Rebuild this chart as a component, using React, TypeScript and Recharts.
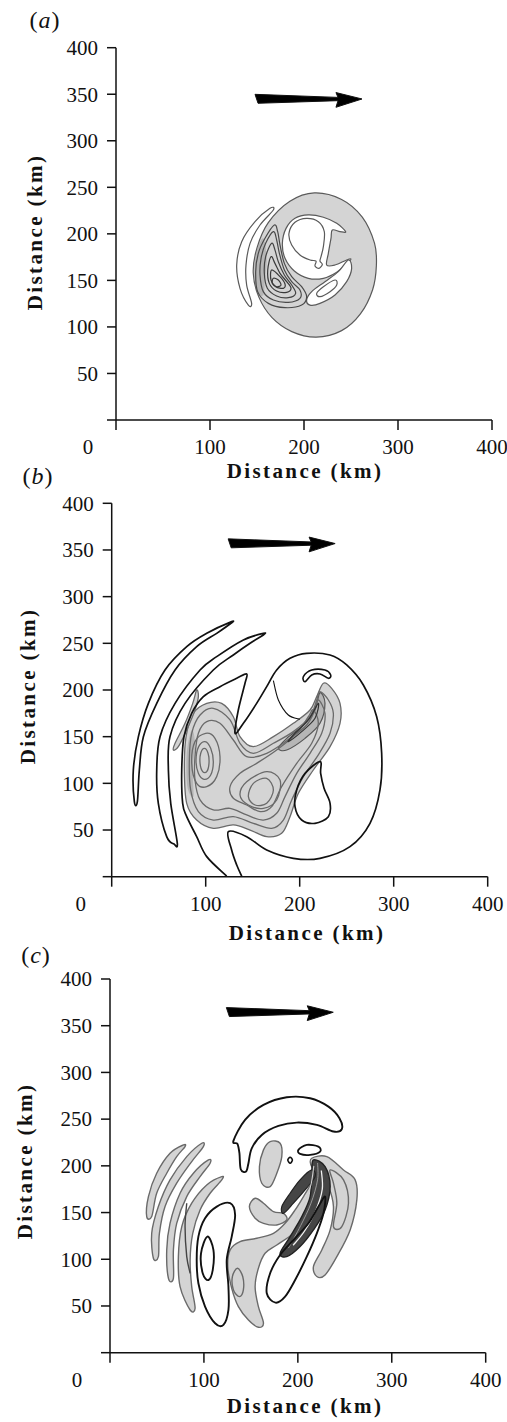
import React from "react";
import { ComposedChart, Line, XAxis, YAxis } from "recharts";

type Pt = [number, number];

// ---------- panel (a): contour lines, km ----------
const aDisk: Pt[] = [[211, 244], [240, 237], [262, 218], [275, 190], [277, 166], [273, 140], [260, 114], [240, 96], [213, 89], [187, 95], [166, 110], [152, 132], [146, 158], [150, 185], [162, 212], [185, 235]];
const aCrescent: Pt[] = [[163.8, 227.4], [147.9, 213.1], [133.7, 191.6], [128.4, 166.5], [131.9, 141.5], [140.8, 123.5], [144.3, 125.3], [139, 145], [138.3, 166.5], [142.6, 189.8], [153.2, 209.5], [167.4, 225.6]];
const aHook: Pt[] = [[244.3, 202.4], [234.8, 211.3], [220.6, 217.8], [204.6, 220.3], [190.4, 216.7], [180.9, 205.9], [177, 189.8], [179.8, 173.7], [189.7, 160.1], [204.6, 152.2], [220.6, 152.2], [234.8, 158.7], [247.2, 169.4], [250, 173], [245.4, 171.9], [233, 166.5], [224.1, 166.5], [225.9, 179.1], [228.7, 195.2], [230.1, 204.1], [238.3, 202.4]];
const aCore: Pt[] = [[202.8, 216.7], [215.3, 213.1], [221.6, 202.4], [220.6, 186.2], [218.1, 175.5], [217, 170.8], [219.5, 167.2], [216, 162.9], [211.7, 165.5], [212.8, 170.8], [206.4, 171.9], [195.7, 177.3], [186.9, 188], [184, 200.6], [190.4, 212.4]];
const aLobe: Pt[] = [[247.2, 171.9], [250.7, 162.9], [245.4, 148.6], [233, 134.3], [217, 125.3], [206.4, 123.5], [202.8, 128.9], [208.2, 137.9], [222.3, 148.6], [236.5, 159.4]];
const aLobeCore: Pt[] = [[233, 150.4], [234.8, 145], [227.7, 137.9], [217, 132.5], [213.5, 136.1], [220.6, 143.2]];
const aShadow: Pt[] = [[156.7, 195.2], [149.6, 180.9], [147.2, 159.4], [149.6, 137.9], [156.7, 134.3], [158.5, 152.2], [160.3, 173.7]];
const aRing7: Pt[] = [[168.4, 209.5], [158.5, 195.2], [151.4, 179.1], [148.6, 159.4], [150.7, 137.9], [162.1, 125.3], [179.8, 120.7], [197.5, 123.5], [202.8, 132.5], [197.5, 143.2], [186.9, 154], [179.1, 168.3], [174.5, 188], [172, 202.4]];
const aRing6: Pt[] = [[167.4, 202.4], [159.2, 189.8], [154.3, 173.7], [153.2, 155.8], [156.7, 137.9], [167.4, 128.9], [183.3, 126.4], [195.7, 130.7], [195.7, 139.7], [186.9, 148.6], [179.1, 161.2], [173.8, 179.1], [170.9, 193.4]];
const aRing5: Pt[] = [[165.6, 189.8], [159.2, 175.5], [157.8, 157.6], [161, 141.5], [170.9, 133.2], [183.3, 131.4], [191.1, 136.1], [186.9, 145], [179.1, 155.8], [172.7, 170.1], [169.1, 182.7]];
const aRing4: Pt[] = [[164.9, 175.5], [161.4, 161.2], [163.1, 146.8], [170.9, 138.6], [181.6, 137.2], [186.2, 141.5], [181.6, 148.6], [174.5, 157.6], [169.1, 168.3]];
const aRing3: Pt[] = [[165.6, 161.2], [164.9, 150.4], [169.9, 143.2], [178, 141.5], [179.8, 146.1], [174.5, 154]];
const aRing2: Pt[] = [[167.4, 152.2], [166.3, 146.8], [170.9, 143.2], [175.5, 145], [172.7, 150.4]];
const aArrow: Pt[] = [[147.9, 349.9], [236.2, 346.6], [234, 351.8], [261.7, 344.9], [234, 336], [236.2, 343.1], [151.1, 340.3]];

// ---------- panel (b) ----------
const bShade: Pt[] = [[225.2, 207.2], [234, 201.8], [242.9, 185.7], [242.9, 164.3], [232.3, 139.3], [214.5, 114.3], [198.6, 89.3], [189.7, 64.3], [180.8, 46.5], [164.9, 42.9], [147.2, 50], [129.4, 55.4], [108.1, 51.8], [90.4, 60.7], [79.8, 78.6], [77.3, 114.3], [79.1, 150], [86.9, 175], [101.1, 185.7], [117, 185.7], [129.4, 171.4], [136.5, 150], [150.7, 139.3], [172, 150], [193.2, 164.3], [211, 178.6], [218.1, 192.9]];
const bEdge: Pt[] = [[85.1, 157.2], [79.8, 132.2], [80.5, 96.5], [86.9, 85.8], [86.2, 114.3], [88.6, 142.9]];
const bSliver: Pt[] = [[90.4, 200], [86.2, 185.7], [78, 164.3], [67.4, 142.9], [65.6, 135.7], [70.9, 139.3], [79.8, 157.2], [88.6, 178.6], [92.2, 192.9]];
const bEye1: Pt[] = [[98.6, 137.5], [102.5, 132.2], [103.5, 121.4], [101.1, 112.5], [96.8, 112.5], [94, 121.4], [94.7, 132.2]];
const bEye2: Pt[] = [[99.3, 144.7], [105.3, 137.5], [108.1, 123.2], [105.3, 108.9], [98.2, 104.3], [92.2, 110.7], [89.7, 125], [92.5, 139.3]];
const bEye3: Pt[] = [[100, 153.6], [109.9, 148.2], [115.2, 128.6], [111.7, 107.2], [101.1, 96.5], [90.4, 100], [85.1, 121.4], [88.6, 144.7]];
const bBand4: Pt[] = [[221.6, 198.2], [230.5, 189.3], [235.8, 175], [232.3, 153.6], [219.8, 130.4], [203.9, 107.2], [191.5, 82.2], [182.6, 60.7], [170.2, 51.8], [150.7, 57.2], [129.4, 64.3], [108.1, 60.7], [92.2, 69.7], [84, 92.9], [82.6, 125], [85.1, 153.6], [94, 173.2], [108.1, 180.4], [125.9, 167.9], [136.5, 142.9], [150.7, 132.2], [172, 142.9], [193.2, 155.4], [211, 171.4], [218.1, 189.3]];
const bBand5: Pt[] = [[219.8, 189.3], [226.9, 175], [223.4, 153.6], [211, 132.2], [196.8, 110.7], [184.4, 85.8], [175.5, 67.9], [161.3, 60.7], [143.6, 66.1], [125.9, 73.2], [108.1, 71.5], [94, 82.2], [88.6, 103.6], [88.6, 128.6], [92.2, 153.6], [101.1, 166.1], [115.2, 164.3], [129.4, 146.4], [143.6, 128.6], [164.9, 132.2], [189.7, 148.2], [207.4, 162.5], [216.3, 178.6]];
const bBand6: Pt[] = [[214.5, 178.6], [219.8, 164.3], [212.8, 142.9], [196.8, 121.4], [180.8, 96.5], [170.2, 75], [157.8, 69.7], [143.6, 76.8], [129.4, 84], [125.9, 96.5], [136.5, 110.7], [154.2, 121.4], [175.5, 135.7], [196.8, 153.6], [209.2, 171.4]];
const bPool1: Pt[] = [[143.6, 101.8], [164.9, 112.5], [179.1, 103.6], [175.5, 82.2], [161.3, 73.2], [145.4, 76.8], [136.5, 87.5]];
const bPool2: Pt[] = [[150.7, 100], [164.9, 105.4], [172, 92.9], [164.9, 78.6], [152.5, 76.8], [145.4, 85.8]];
const bJet: Pt[] = [[221.6, 197.1], [226.9, 185.7], [221.6, 164.3], [205.7, 148.2], [186.2, 135.7], [177.3, 137.5], [186.2, 148.2], [203.9, 162.5], [216.3, 180.4]];
const bJetCore: Pt[] = [[219.8, 185.7], [216.3, 169.7], [202.1, 155.4], [187.9, 144.7], [193.2, 151.8], [209.2, 167.9]];
const bArc1: Pt[] = [[127.6, 273.2], [101.1, 260.7], [79.8, 246.4], [56.7, 221.4], [39, 185.7], [28.4, 150], [23, 114.3], [24.1, 80.4], [27.3, 80.4], [29.4, 114.3], [33.7, 150], [47.9, 185.7], [67.4, 221.4], [90.4, 246.4], [111.7, 260.7], [125.9, 270.7]];
const bArc2: Pt[] = [[161.3, 260.7], [140.1, 253.6], [111.7, 235.7], [94, 221.4], [67.4, 185.7], [51.4, 150], [47.9, 114.3], [49.6, 78.6], [58.5, 42.9], [66.3, 35], [69.8, 35.7], [62.8, 78.6], [60.3, 114.3], [62, 150], [78, 185.7], [108.1, 221.4], [129.4, 237.5], [147.2, 250], [161.3, 258.9]];
const bOuter: Pt[] = [[122.3, 0.7], [101.1, 21.5], [90.4, 42.9], [79.8, 64.3], [75.5, 78.6], [74.5, 114.3], [76.9, 150], [85.1, 175], [97.5, 192.9], [115.2, 203.6], [133, 212.5], [143.6, 217.2], [141.8, 207.2], [134.7, 178.6], [131.2, 153.6], [140.1, 164.3], [154.2, 185.7], [164.9, 203.6], [175.5, 221.4], [189.7, 233.9], [207.4, 239.3], [232.3, 237.5], [250, 226.8], [267.7, 205.4], [281.9, 171.4], [287.2, 132.2], [285.4, 92.9], [274.8, 57.2], [253.5, 32.2], [221.6, 19.7], [193.2, 19.7], [164.9, 28.6], [143.6, 42.9], [124.1, 48.2], [127.6, 28.6], [133, 12.5], [138.3, 0.7]];
const bThread: Pt[] = [[172, 210], [177.3, 189.3], [187.9, 173.2], [200.3, 168.6]];
const bTongue: Pt[] = [[203.9, 214.3], [212.8, 221.4], [226.9, 221.4], [233, 216.1], [230.5, 212.5], [221.6, 217.2], [212.8, 216.1], [205.7, 208.9]];
const bDrop: Pt[] = [[221.6, 123.2], [205.7, 110.7], [196.8, 92.9], [195, 75], [202.1, 60.7], [216.3, 57.2], [230.5, 64.3], [232.3, 78.6], [225.9, 94.7], [222.3, 110.7]];
const bArrow: Pt[] = [[123.9, 361.9], [212.2, 358.6], [210, 363.8], [237.7, 356.9], [210, 348], [212.2, 355.1], [127.1, 352.3]];

// ---------- panel (c) ----------
const cArc1: Pt[] = [[78.2, 222.4], [63.9, 213.5], [49.7, 192.1], [40.9, 167.1], [39.1, 145.7], [44.4, 145.7], [49.7, 170.7], [60.4, 192.1], [71, 209.9], [79.9, 220.6]];
const cArc2: Pt[] = [[97.7, 224.2], [81.7, 209.9], [63.9, 184.9], [51.5, 156.4], [44.4, 127.8], [46.2, 101.1], [51.5, 102.8], [52.6, 127.8], [58.6, 156.4], [71, 181.4], [87, 204.6], [99.4, 220.6]];
const cArc3: Pt[] = [[104.8, 206.3], [88.8, 192.1], [74.6, 170.7], [63.9, 138.5], [60.4, 110], [62.2, 79.6], [67.5, 79.6], [67.5, 110], [71, 138.5], [81.7, 167.1], [95.9, 188.5], [106.6, 202.8]];
const cArc4: Pt[] = [[119, 188.5], [103, 179.6], [87, 160], [76.4, 135], [72.8, 102.8], [74.6, 70.7], [85.3, 45.7], [90.6, 47.5], [87, 70.7], [85.3, 99.3], [88.1, 127.8], [95.9, 152.8], [106.6, 170.7], [119, 184.9]];
const cArc4Core: Pt[] = [[81.7, 160], [79.9, 135], [81.7, 102.8], [85.3, 85]];
const cTail: Pt[] = [[158, 27.2], [147.4, 35], [136.7, 49.3], [129.6, 68.9], [125.4, 92.2], [127.9, 110], [138.5, 118.9], [156.3, 122.5], [174, 127.8], [186.4, 138.5], [197.1, 152.8], [206, 167.1], [214.8, 181.4], [221.9, 192.1], [225.5, 186.7], [220.2, 167.1], [209.5, 145.7], [195.3, 127.8], [177.6, 115.3], [165.1, 106.4], [158, 90.4], [154.5, 70.7], [158, 49.3], [163.4, 31.5]];
const cTailCore: Pt[] = [[135.7, 90.4], [141.3, 81.5], [142, 67.2], [137.8, 60], [131.4, 67.2], [130.3, 81.5]];
const cFin: Pt[] = [[148.4, 156.4], [154.5, 165.3], [163.4, 160], [174, 151], [184.7, 149.2], [188.2, 142.1], [177.6, 136.7], [163.4, 138.5], [154.5, 143.9]];
const cPatch: Pt[] = [[170.5, 226], [181.1, 224.2], [182.9, 209.9], [177.6, 192.1], [170.5, 177.8], [161.6, 181.4], [159.1, 199.2], [163.4, 217.1]];
const cPlume: Pt[] = [[214.8, 208.1], [230.8, 209.9], [248.6, 195.6], [261, 185], [262.8, 163.5], [255.7, 131.4], [241.5, 102.8], [229, 83.2], [220.2, 81.5], [216.6, 92.2], [225.5, 110], [234.4, 131.4], [237.9, 156.4], [232.6, 177.8], [223.7, 192.1], [214.8, 199.2]];
const cPlumeCore: Pt[] = [[234.4, 195.6], [248.6, 185], [253.9, 160], [246.8, 135], [237.9, 135], [241.5, 160], [237.9, 181.4]];
const cDense: Pt[] = [[216.6, 206.3], [229, 199.2], [234.4, 177.8], [229, 152.8], [216.6, 131.4], [202.4, 113.6], [188.2, 102.8], [181.1, 106.4], [191.8, 124.3], [204.2, 145.7], [213.1, 167.1], [214.8, 192.1]];
const cWisp: Pt[] = [[214.8, 195.6], [202.4, 185], [191.8, 170.7], [182.9, 156.4], [184.7, 149.2], [195.3, 160], [207.7, 174.2], [218.4, 188.5]];
const cStreak1: Pt[] = [[225, 195], [226, 175], [219, 152], [207, 130], [195, 115]];
const cStreak2: Pt[] = [[217, 200], [214, 180], [207, 160], [196, 140]];
const cStreak3: Pt[] = [[221, 203], [221, 185], [214, 160], [203, 136], [190, 112]];
const cBanana: Pt[] = [[131.4, 226.7], [143.8, 249.2], [163.4, 265.2], [188.2, 273.4], [213.1, 272.4], [232.6, 263.4], [244.3, 251], [246.8, 239.2], [237.9, 236.7], [220.2, 243.8], [198.9, 246.3], [179.3, 242.7], [161.6, 233.1], [150.9, 218.8], [147.4, 202.8], [144.9, 193.9], [139.2, 196.4], [137.8, 213.5], [135.7, 223.5]];
const cSeed: Pt[] = [[200.6, 217.1], [209.5, 222.4], [221.9, 220.6], [223.7, 215.3], [213.1, 211.7], [202.4, 212.8]];
const cDot: Pt[] = [[191.8, 209.2], [194.2, 206.3], [191.8, 202.8], [189.3, 206.3]];
const cLoop: Pt[] = [[101.2, 143.9], [113.7, 156.4], [127.9, 160], [133.2, 147.5], [129.6, 124.3], [124.3, 99.3], [126.1, 70.7], [126.1, 45.7], [120.8, 29.7], [111.9, 31.5], [101.2, 49.3], [94.1, 74.3], [92.3, 99.3], [94.1, 124.3]];
const cLoopCore: Pt[] = [[103.7, 124.3], [110.1, 110], [109.4, 88.6], [104.8, 77.8], [98.7, 85], [96.9, 106.4]];
const cLeaf: Pt[] = [[176.2, 53.6], [166.9, 63.6], [170.5, 85], [181.1, 104.6], [197.1, 122.5], [211.3, 138.5], [221.9, 156.4], [229, 167.1], [227.3, 149.2], [220.2, 127.8], [209.5, 102.8], [197.1, 77.8], [186.4, 60]];
const cArrow: Pt[] = [[123.9, 369.4], [212.2, 366.1], [210, 371.3], [237.7, 364.4], [210, 355.5], [212.2, 362.6], [127.1, 359.8]];

const xTicks = [0, 100, 200, 300, 400];
const yTicks = [0, 50, 100, 150, 200, 250, 300, 350, 400];

// closed / open Catmull-Rom through the traced points
function smooth(closed: boolean) {
  return (ctx: any) => {
    let pts: number[][] = [];
    return {
      areaStart() {},
      areaEnd() {},
      lineStart() {
        pts = [];
      },
      point(x: number, y: number) {
        pts.push([+x, +y]);
      },
      lineEnd() {
        const n = pts.length;
        if (n < 2) return;
        const at = (i: number) => (closed ? pts[(i + n) % n] : pts[Math.max(0, Math.min(n - 1, i))]);
        ctx.moveTo(pts[0][0], pts[0][1]);
        const segs = closed ? n : n - 1;
        for (let i = 0; i < segs; i++) {
          const p0 = at(i - 1), p1 = at(i), p2 = at(i + 1), p3 = at(i + 2);
          ctx.bezierCurveTo(
            p1[0] + (p2[0] - p0[0]) / 6, p1[1] + (p2[1] - p0[1]) / 6,
            p2[0] - (p3[0] - p1[0]) / 6, p2[1] - (p3[1] - p1[1]) / 6,
            p2[0], p2[1]
          );
        }
        if (closed) ctx.closePath();
      },
    };
  };
}
const closedCurve = smooth(true);
const openCurve = smooth(false);

type Layer = { pts: Pt[]; fill?: string; stroke: string; width: number; open?: boolean; poly?: boolean };

const GRAY = "#6a6a6a";
const INK = "#111";

const aLayers: Layer[] = [
  { pts: aDisk, fill: "shade", stroke: "#5a5a5a", width: 1.2 },
  { pts: aShadow, fill: "dark", stroke: "none", width: 0 },
  { pts: aHook, fill: "white", stroke: "#5a5a5a", width: 1.2 },
  { pts: aLobe, fill: "white", stroke: "#5a5a5a", width: 1.2 },
  { pts: aLobeCore, stroke: "#5a5a5a", width: 1.2 },
  { pts: aCore, stroke: "#5a5a5a", width: 1.2 },
  { pts: aRing7, stroke: "#4a4a4a", width: 1.2 },
  { pts: aRing6, stroke: "#4a4a4a", width: 1.2 },
  { pts: aRing5, stroke: "#444", width: 1.2 },
  { pts: aRing4, stroke: "#3a3a3a", width: 1.2 },
  { pts: aRing3, stroke: "#3a3a3a", width: 1.2 },
  { pts: aRing2, stroke: "#3a3a3a", width: 1.2 },
  { pts: aCrescent, stroke: "#5a5a5a", width: 1.2 },
  { pts: aArrow, fill: "black", stroke: INK, width: 1, poly: true },
];

const bLayers: Layer[] = [
  { pts: bShade, fill: "shade", stroke: GRAY, width: 1.3 },
  { pts: bSliver, fill: "shade", stroke: GRAY, width: 1.3 },
  { pts: bEdge, fill: "dark", stroke: "none", width: 0 },
  { pts: bJet, fill: "dark", stroke: "#555", width: 1.2 },
  { pts: bBand4, stroke: GRAY, width: 1.3 },
  { pts: bBand5, stroke: GRAY, width: 1.3 },
  { pts: bBand6, stroke: GRAY, width: 1.3 },
  { pts: bPool1, stroke: GRAY, width: 1.3 },
  { pts: bPool2, stroke: GRAY, width: 1.3 },
  { pts: bEye3, stroke: GRAY, width: 1.3 },
  { pts: bEye2, stroke: GRAY, width: 1.3 },
  { pts: bEye1, stroke: GRAY, width: 1.3 },
  { pts: bJetCore, stroke: "#333", width: 1.2 },
  { pts: bArc1, stroke: INK, width: 1.7 },
  { pts: bArc2, stroke: INK, width: 1.7 },
  { pts: bOuter, stroke: INK, width: 1.7, open: true },
  { pts: bThread, stroke: INK, width: 1.1, open: true },
  { pts: bTongue, stroke: INK, width: 1.6 },
  { pts: bDrop, stroke: INK, width: 1.7 },
  { pts: bArrow, fill: "black", stroke: INK, width: 1, poly: true },
];

const cLayers: Layer[] = [
  { pts: cArc1, fill: "shade", stroke: GRAY, width: 1.4 },
  { pts: cArc2, fill: "shade", stroke: GRAY, width: 1.4 },
  { pts: cArc3, fill: "shade", stroke: GRAY, width: 1.4 },
  { pts: cArc4, fill: "shade", stroke: GRAY, width: 1.4 },
  { pts: cTail, fill: "shade", stroke: GRAY, width: 1.4 },
  { pts: cFin, fill: "shade", stroke: GRAY, width: 1.4 },
  { pts: cPatch, fill: "shade", stroke: GRAY, width: 1.4 },
  { pts: cPlume, fill: "shade", stroke: GRAY, width: 1.4 },
  { pts: cDense, fill: "ink", stroke: "#222", width: 1.4 },
  { pts: cWisp, fill: "ink", stroke: "#222", width: 1.2 },
  { pts: cTailCore, stroke: GRAY, width: 1.4 },
  { pts: cPlumeCore, stroke: GRAY, width: 1.4 },
  { pts: cArc4Core, stroke: "#444", width: 1.4, open: true },
  { pts: cStreak1, stroke: "#f2f2f2", width: 1.3, open: true },
  { pts: cStreak2, stroke: "#cfcfcf", width: 1.1, open: true },
  { pts: cStreak3, stroke: "#9a9a9a", width: 1, open: true },
  { pts: cBanana, stroke: INK, width: 1.9 },
  { pts: cSeed, stroke: INK, width: 1.8 },
  { pts: cDot, stroke: INK, width: 1.6 },
  { pts: cLoop, stroke: INK, width: 1.9 },
  { pts: cLoopCore, stroke: INK, width: 1.9 },
  { pts: cLeaf, stroke: INK, width: 1.9 },
  { pts: cArrow, fill: "black", stroke: INK, width: 1, poly: true },
];

const serif = '"Liberation Serif", "Times New Roman", serif';

const css = `
.fill-shade path.recharts-line-curve { fill: #d4d4d4; }
.fill-white path.recharts-line-curve { fill: #ffffff; }
.fill-dark path.recharts-line-curve { fill: #8a8a8a; fill-opacity: 0.4; }
.fill-ink path.recharts-line-curve { fill: #454545; }
.fill-black path.recharts-line-curve { fill: #000000; }
`;

function renderLayer(l: Layer, i: number) {
  return (
    <Line
      key={i}
      data={l.pts.map(([x, y]) => ({ x, y }))}
      dataKey="y"
      type={(l.poly ? "linearClosed" : l.open ? openCurve : closedCurve) as any}
      stroke={l.stroke}
      strokeWidth={l.width}
      className={l.fill ? `fill-${l.fill}` : undefined}
      dot={false}
      activeDot={false}
      legendType="none"
      isAnimationActive={false}
    />
  );
}

type Geo = {
  top: number;
  mTop: number;
  plotH: number;
  left: number;
  right: number;
  zeroDx: number;
};

function Panel({ g, layers }: { g: Geo; layers: Layer[] }) {
  const xTick = (p: any) => {
    const v = p.payload.value;
    return (
      <text x={p.x + (v === 0 ? g.zeroDx : 0)} y={p.y + 17} dy="0.35em" textAnchor="middle" fontFamily={serif} fontSize={21} fill="#111">
        {v}
      </text>
    );
  };
  const yTick = (p: any) => {
    const v = p.payload.value;
    if (v === 0) return <g />;
    return (
      <text x={p.x} y={p.y} dy="0.35em" textAnchor="end" fontFamily={serif} fontSize={21} fill="#111">
        {v}
      </text>
    );
  };
  return (
    <div style={{ position: "absolute", left: 0, top: g.top }}>
      <ComposedChart width={507} height={g.mTop + g.plotH + 60} margin={{ top: g.mTop, right: g.right, bottom: 0, left: 0 }}>
        <XAxis
          type="number"
          dataKey="x"
          domain={[0, 400]}
          ticks={xTicks}
          allowDataOverflow
          height={60}
          tickSize={10}
          tickMargin={0}
          tick={xTick}
          axisLine={{ stroke: "#111", strokeWidth: 1.5 }}
          tickLine={{ stroke: "#111", strokeWidth: 1.5 }}
        />
        <YAxis
          type="number"
          domain={[0, 400]}
          ticks={yTicks}
          allowDataOverflow
          width={g.left}
          tickSize={9}
          tickMargin={9}
          tick={yTick}
          axisLine={{ stroke: "#111", strokeWidth: 1.5 }}
          tickLine={{ stroke: "#111", strokeWidth: 1.5 }}
        />
        {layers.map(renderLayer)}
      </ComposedChart>
    </div>
  );
}

const titleStyle: React.CSSProperties = {
  position: "absolute",
  fontFamily: serif,
  fontSize: 21,
  fontWeight: 700,
  letterSpacing: "2.4px",
  color: "#111",
  whiteSpace: "nowrap",
  lineHeight: 1,
};

function Titles({ x, y, yx, yy, lx, ly, letter }: { x: number; y: number; yx: number; yy: number; lx: number; ly: number; letter: string }) {
  return (
    <>
      <div style={{ ...titleStyle, left: x, top: y, transform: "translate(-50%, -50%)" }}>Distance (km)</div>
      <div style={{ ...titleStyle, left: yx, top: yy, transform: "translate(-50%, -50%) rotate(-90deg)" }}>Distance (km)</div>
      <div style={{ ...titleStyle, fontWeight: 400, fontSize: 24, letterSpacing: "1px", left: lx, top: ly, transform: "translate(-50%, -50%)" }}>
        (<i>{letter}</i>)
      </div>
    </>
  );
}

export default function App() {
  return (
    <div style={{ position: "absolute", left: 0, top: 0, width: 507, height: 1422, background: "#fff" }}>
      <style>{css}</style>
      <Panel g={{ top: 0, mTop: 47.7, plotH: 372.3, left: 116, right: 15, zeroDx: -28 }} layers={aLayers} />
      <Panel g={{ top: 455, mTop: 48.3, plotH: 373.4, left: 111.7, right: 19.3, zeroDx: -31 }} layers={bLayers} />
      <Panel g={{ top: 931, mTop: 48, plotH: 373.7, left: 110, right: 21.3, zeroDx: -33 }} layers={cLayers} />
      <Titles x={305} y={471} yx={35} yy={232} lx={45} ly={20} letter="a" />
      <Titles x={307} y={933} yx={28} yy={686} lx={38} ly={476} letter="b" />
      <Titles x={305} y={1406} yx={25} yy={1161} lx={36} ly={955} letter="c" />
    </div>
  );
}
